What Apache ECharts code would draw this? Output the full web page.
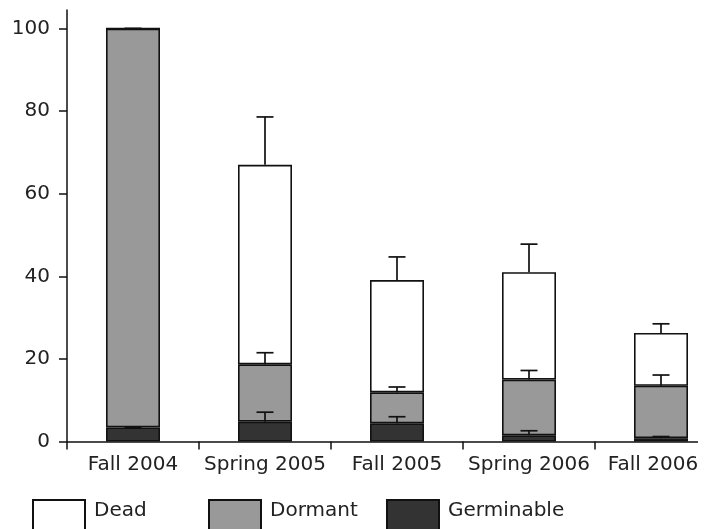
<!DOCTYPE html>
<html>
<head>
<meta charset="utf-8">
<script src="https://cdn.jsdelivr.net/npm/echarts@6/dist/echarts.min.js"></script>
<style>
html,body{margin:0;padding:0;background:#fff;overflow:hidden;width:704px;height:529px}
#wrap{width:698px;height:529px;overflow:hidden}
#c{width:727px;height:529px}
</style>
</head>
<body>
<div id="wrap"><div id="c"></div></div>
<script>
var categories = ['Fall 2004', 'Spring 2005', 'Fall 2005', 'Spring 2006', 'Fall 2006'];
var germinable = [3.4, 4.8, 4.4, 1.5, 0.8];
var dormant = [96.6, 13.9, 7.5, 13.5, 12.7];
var dead = [0, 48.3, 27.2, 26.0, 12.8];
var germinableErr = [0, 2.3, 1.6, 1.1, 0.4];
var dormantErr = [0, 2.8, 1.3, 2.2, 2.6];
var deadErr = [0, 11.6, 5.6, 6.8, 2.2];
var yTicks = [0, 20, 40, 60, 80, 100];

var FONT = 'DejaVu Sans';
var TXT = '#222';
var LINE = '#111';

function errData(parts, errs) {
  var out = [];
  for (var i = 0; i < categories.length; i++) {
    var base = 0;
    for (var k = 0; k < parts.length; k++) base += parts[k][i];
    out.push([i, base, base + errs[i]]);
  }
  return out;
}

function errSeries(name, data) {
  return {
    type: 'custom', name: name, z: 10, silent: true,
    data: data,
    encode: { x: 0, y: [1, 2] },
    renderItem: function (params, api) {
      var x = api.value(0);
      var p0 = api.coord([x, api.value(1)]);
      var p1 = api.coord([x, api.value(2)]);
      var hw = 8.5;
      var st = { stroke: LINE, lineWidth: 1.7 };
      return {
        type: 'group',
        children: [
          { type: 'line', shape: { x1: p0[0], y1: p0[1], x2: p1[0], y2: p1[1] }, style: st },
          { type: 'line', shape: { x1: p1[0] - hw, y1: p1[1], x2: p1[0] + hw, y2: p1[1] }, style: st }
        ]
      };
    }
  };
}

function barSeries(name, data, color) {
  return {
    type: 'bar', name: name, stack: 'total', data: data, barWidth: 54,
    itemStyle: { color: color, borderColor: LINE, borderWidth: 1.6 },
    silent: true
  };
}

function legendAt(name, left) {
  return {
    data: [name], left: left, top: 499, padding: 0,
    icon: 'rect', itemWidth: 52, itemHeight: 40,
    formatter: '{t|{name}}',
    textStyle: {
      rich: { t: { fontFamily: FONT, fontSize: 20, color: TXT, padding: [0, 0, 18, 4] } }
    },
    selectedMode: false
  };
}

var lastCat = categories.length - 1;

var chart = echarts.init(document.getElementById('c'), null, { renderer: 'canvas' });
chart.setOption({
  animation: false,
  backgroundColor: '#fff',
  grid: { left: 67, right: 0, top: 10, bottom: 87.5, containLabel: false },
  legend: [legendAt('Dead', 32), legendAt('Dormant', 208), legendAt('Germinable', 386)],
  xAxis: {
    type: 'category', data: categories, boundaryGap: true,
    axisLine: { lineStyle: { color: LINE, width: 1.5 } },
    axisTick: { show: true, length: 8, lineStyle: { color: LINE, width: 1.5 } },
    axisLabel: {
      fontFamily: FONT, fontSize: 20, color: TXT, margin: 13, interval: 0,
      formatter: function (v, i) { return i === lastCat ? '{last|' + v + '}' : v; },
      rich: { last: { fontFamily: FONT, fontSize: 20, color: TXT, padding: [0, 16, 0, 0] } }
    }
  },
  yAxis: {
    type: 'value', min: 0, max: 104.5,
    splitLine: { show: false },
    axisLine: { show: true, lineStyle: { color: LINE, width: 1.5 } },
    axisTick: { show: true, length: 8, lineStyle: { color: LINE, width: 1.5 }, customValues: yTicks },
    axisLabel: { fontFamily: FONT, fontSize: 20, color: TXT, margin: 17, customValues: yTicks }
  },
  series: [
    barSeries('Germinable', germinable, '#333333'),
    barSeries('Dormant', dormant, '#999999'),
    barSeries('Dead', dead, '#ffffff'),
    errSeries('errG', errData([germinable], germinableErr)),
    errSeries('errD', errData([germinable, dormant], dormantErr)),
    errSeries('errX', errData([germinable, dormant, dead], deadErr))
  ]
});
</script>
</body>
</html>
